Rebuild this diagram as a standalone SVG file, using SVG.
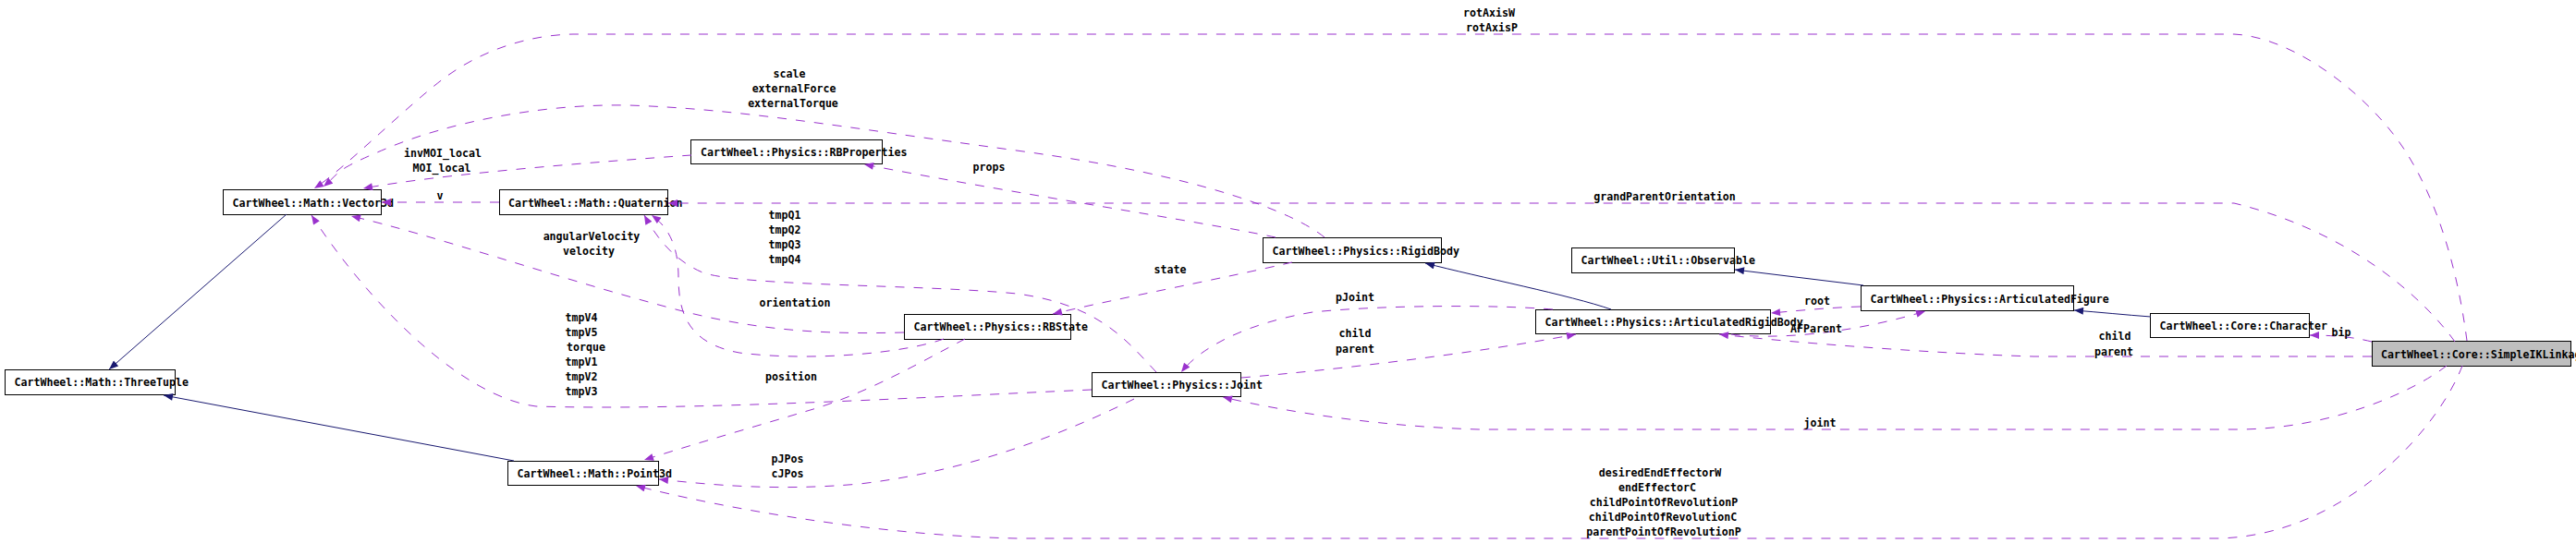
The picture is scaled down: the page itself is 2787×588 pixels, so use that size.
<svg xmlns="http://www.w3.org/2000/svg" width="2787" height="588" viewBox="0 0 2787 588">
<style>
.n rect{fill:#fff;stroke:#000;stroke-width:1}
.n.cur rect{fill:#bfbfbf}
text{font-family:"DejaVu Sans Mono","Liberation Mono",monospace;font-size:11.6px;font-weight:bold;fill:#000}
.l{text-anchor:middle}
.u{fill:none;stroke:#9a32cd;stroke-width:1;stroke-dasharray:10,10;marker-end:url(#ap)}
.i{fill:none;stroke:#191970;stroke-width:1;marker-end:url(#ai)}
</style>
<defs>
<marker id="ap" viewBox="0 0 10 8" refX="10" refY="4" markerWidth="11" markerHeight="8" markerUnits="userSpaceOnUse" orient="auto"><path d="M0,0 L10,4 L0,8 z" fill="#9a32cd"/></marker>
<marker id="ai" viewBox="0 0 10 8" refX="10" refY="4" markerWidth="11" markerHeight="8" markerUnits="userSpaceOnUse" orient="auto"><path d="M0,0 L10,4 L0,8 z" fill="#191970"/></marker>
</defs>
<rect width="2787" height="588" fill="#fff"/>
<g id="nodes">
<g id="node-threetuple" class="n"><rect x="5.5" y="400.5" width="184" height="27"/><text x="15.5" y="418">CartWheel::Math::ThreeTuple</text></g>
<g id="node-vector3d" class="n"><rect x="241.5" y="205.5" width="171" height="27"/><text x="251.5" y="223.5">CartWheel::Math::Vector3d</text></g>
<g id="node-quaternion" class="n"><rect x="540.5" y="205.5" width="182" height="27"/><text x="550" y="223.5">CartWheel::Math::Quaternion</text></g>
<g id="node-point3d" class="n"><rect x="549.5" y="499.5" width="163" height="26"/><text x="559.5" y="516.5">CartWheel::Math::Point3d</text></g>
<g id="node-rbproperties" class="n"><rect x="747.5" y="151.5" width="207" height="26"/><text x="758" y="168.5">CartWheel::Physics::RBProperties</text></g>
<g id="node-rbstate" class="n"><rect x="978.5" y="340.5" width="180" height="27"/><text x="988.5" y="358">CartWheel::Physics::RBState</text></g>
<g id="node-joint" class="n"><rect x="1181.5" y="403.5" width="161" height="26"/><text x="1191.5" y="420.5">CartWheel::Physics::Joint</text></g>
<g id="node-rigidbody" class="n"><rect x="1366.5" y="257.5" width="193" height="27"/><text x="1376.5" y="275.5">CartWheel::Physics::RigidBody</text></g>
<g id="node-observable" class="n"><rect x="1700.5" y="268.5" width="176" height="27"/><text x="1710.5" y="286">CartWheel::Util::Observable</text></g>
<g id="node-articulatedrigidbody" class="n"><rect x="1661.5" y="335.5" width="254" height="26"/><text x="1671.5" y="352.5">CartWheel::Physics::ArticulatedRigidBody</text></g>
<g id="node-articulatedfigure" class="n"><rect x="2013.5" y="309.5" width="230" height="27"/><text x="2023.5" y="327.5">CartWheel::Physics::ArticulatedFigure</text></g>
<g id="node-character" class="n"><rect x="2326.5" y="339.5" width="172" height="26"/><text x="2336.5" y="356.5">CartWheel::Core::Character</text></g>
<g id="node-simpleiklinkage" class="n cur"><rect x="2566.5" y="369.5" width="215" height="27"/><text x="2576" y="387.5">CartWheel::Core::SimpleIKLinkage</text></g>
</g>
<g id="connectors">
<path class="i" d="M310,232 L118,400"/>
<path class="i" d="M556,499 L177,428"/>
<path class="i" d="M1743,335 C1700,320 1600,300 1542,285"/>
<path class="i" d="M2016,309 L1877,292"/>
<path class="i" d="M2327,343 C2300,341 2270,338 2244,336"/>

<path class="u" d="M2669,369 C2660,300 2640,220 2600,160 S2480,40 2417,37 L620,37 C570,38 520,55 480,85 S370,185 340,204"/>
<path class="u" d="M1433,257 C1400,230 1300,190 1100,163 S800,118 680,114 C580,112 480,135 420,160 S370,185 350,202"/>
<path class="u" d="M1380,257 C1300,240 1100,210 935,178"/>
<path class="u" d="M748,168 C650,175 480,188 393,204"/>
<path class="u" d="M540,219 L413,219"/>
<path class="u" d="M2656,370 C2620,320 2540,250 2417,220 L723,220"/>
<path class="u" d="M978,360 C900,362 820,360 720,332 C600,300 470,255 380,234"/>
<path class="u" d="M1181,422 C1000,430 750,445 580,440 C500,430 400,330 337,233"/>
<path class="u" d="M1251,403 C1220,370 1190,330 1100,318 C1000,308 800,310 760,295 C730,282 712,260 697,233"/>
<path class="u" d="M1021,367 C980,382 880,392 800,382 C745,372 734,340 734,300 C734,265 722,245 705,233"/>
<path class="u" d="M1398,284 C1330,300 1200,325 1139,340"/>
<path class="u" d="M1044,367 C1000,390 940,425 880,443 S760,478 697,498"/>
<path class="u" d="M1227,432 C1150,470 1050,510 930,524 C840,532 770,525 713,519"/>
<path class="u" d="M2664,396 C2640,460 2540,580 2400,583 L1100,583 C950,580 780,550 688,526"/>
<path class="u" d="M2647,396 C2610,425 2520,465 2420,465 L1600,465 C1500,462 1400,448 1323,430"/>
<path class="u" d="M2566,386 L2200,386 C2100,383 1950,372 1860,362"/>
<path class="u" d="M2566,370 C2550,366 2530,363 2499,363"/>
<path class="u" d="M2013,332 C1980,333 1950,336 1916,339"/>
<path class="u" d="M1873,362 C1920,368 2000,362 2083,337"/>
<path class="u" d="M1680,335 C1620,330 1500,330 1420,338 C1350,350 1300,375 1278,403"/>
<path class="u" d="M1343,409 C1450,400 1600,382 1705,362"/>

<text class="l" x="1611" y="18">rotAxisW</text>
<text class="l" x="1614" y="34">rotAxisP</text>
<text class="l" x="854" y="83.5">scale</text>
<text class="l" x="859" y="99.5">externalForce</text>
<text class="l" x="858" y="115.5">externalTorque</text>
<text class="l" x="1070" y="185">props</text>
<text class="l" x="479" y="169.5">invMOI_local</text>
<text class="l" x="478" y="185.5">MOI_local</text>
<text class="l" x="476" y="216">v</text>
<text class="l" x="1801" y="217">grandParentOrientation</text>
<text class="l" x="640" y="260">angularVelocity</text>
<text class="l" x="637" y="275.5">velocity</text>
<text class="l" x="849" y="237">tmpQ1</text>
<text class="l" x="849" y="253">tmpQ2</text>
<text class="l" x="849" y="269">tmpQ3</text>
<text class="l" x="849" y="285">tmpQ4</text>
<text class="l" x="860" y="331.5">orientation</text>
<text class="l" x="1266" y="295.5">state</text>
<text class="l" x="629" y="348">tmpV4</text>
<text class="l" x="629" y="364">tmpV5</text>
<text class="l" x="634" y="379.5">torque</text>
<text class="l" x="629" y="395.5">tmpV1</text>
<text class="l" x="629" y="411.5">tmpV2</text>
<text class="l" x="629" y="428">tmpV3</text>
<text class="l" x="856" y="412">position</text>
<text class="l" x="852" y="501">pJPos</text>
<text class="l" x="852" y="517">cJPos</text>
<text class="l" x="1466" y="325.5">pJoint</text>
<text class="l" x="1466" y="365">child</text>
<text class="l" x="1466" y="381.5">parent</text>
<text class="l" x="1966" y="329.5">root</text>
<text class="l" x="1965" y="360">AFParent</text>
<text class="l" x="2288" y="368">child</text>
<text class="l" x="2287" y="384.5">parent</text>
<text class="l" x="2533" y="363.5">bip</text>
<text class="l" x="1969" y="461.5">joint</text>
<text class="l" x="1796" y="515.5">desiredEndEffectorW</text>
<text class="l" x="1793" y="531.5">endEffectorC</text>
<text class="l" x="1800" y="547.5">childPointOfRevolutionP</text>
<text class="l" x="1799" y="563.5">childPointOfRevolutionC</text>
<text class="l" x="1800" y="579.5">parentPointOfRevolutionP</text>
</g>
</svg>
